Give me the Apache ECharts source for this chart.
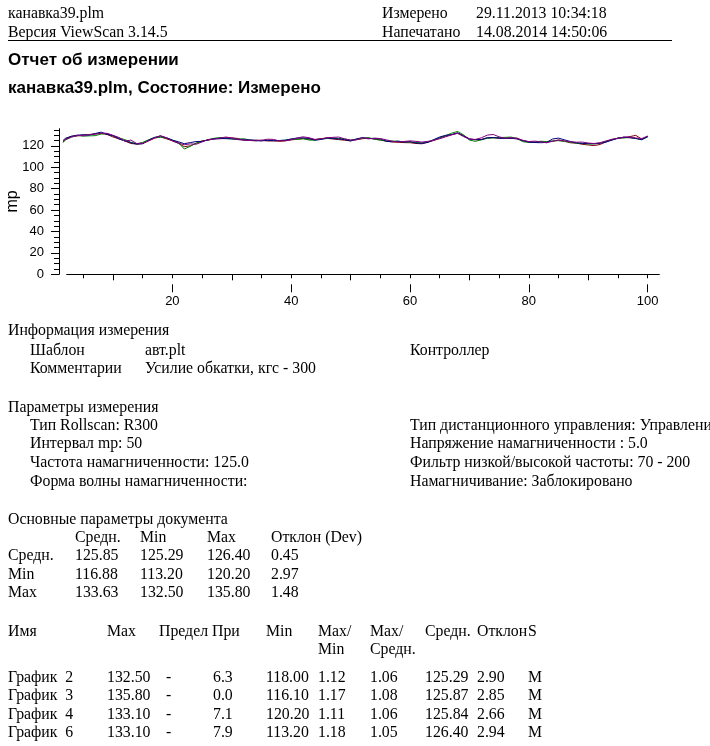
<!DOCTYPE html>
<html>
<head>
<meta charset="utf-8">
<script src="https://cdn.jsdelivr.net/npm/echarts@6/dist/echarts.min.js"></script>
<style>
html,body{margin:0;padding:0;background:#fff;}
body{width:710px;height:746px;position:relative;overflow:hidden;font-family:"Liberation Serif","Times New Roman",serif;font-size:15.8px;color:#000;}
#chart{position:absolute;left:0;top:0;width:710px;height:746px;}
.t{position:absolute;white-space:pre;line-height:18px;z-index:2;}
.b{font-family:"Liberation Sans",Arial,sans-serif;font-weight:bold;font-size:17px;}
#hr{position:absolute;left:8px;top:40px;width:664px;height:1px;background:#000;z-index:2;}
</style>
</head>
<body>
<div id="chart"></div>
<div class="t" style="left:8px;top:4px">канавка39.plm</div>
<div class="t" style="left:382px;top:4px">Измерено</div>
<div class="t" style="left:476px;top:4px">29.11.2013 10:34:18</div>
<div class="t" style="left:8px;top:23px">Версия ViewScan 3.14.5</div>
<div class="t" style="left:382px;top:23px">Напечатано</div>
<div class="t" style="left:476px;top:23px">14.08.2014 14:50:06</div>
<div id="hr"></div>
<div class="t b" style="left:8px;top:51px">Отчет об измерении</div>
<div class="t b" style="left:8px;top:79px">канавка39.plm, Состояние: Измерено</div>

<div class="t" style="left:8px;top:321px">Информация измерения</div>
<div class="t" style="left:30px;top:341px">Шаблон</div>
<div class="t" style="left:145px;top:341px">авт.plt</div>
<div class="t" style="left:410px;top:341px">Контроллер</div>
<div class="t" style="left:30px;top:359px">Комментарии</div>
<div class="t" style="left:145px;top:359px">Усилие обкатки, кгс - 300</div>

<div class="t" style="left:8px;top:398px">Параметры измерения</div>
<div class="t" style="left:30px;top:416px">Тип Rollscan: R300</div>
<div class="t" style="left:30px;top:434px">Интервал mp: 50</div>
<div class="t" style="left:30px;top:453px">Частота намагниченности: 125.0</div>
<div class="t" style="left:30px;top:472px">Форма волны намагниченности:</div>
<div class="t" style="left:410px;top:416px">Тип дистанционного управления: Управление</div>
<div class="t" style="left:410px;top:434px">Напряжение намагниченности : 5.0</div>
<div class="t" style="left:410px;top:453px">Фильтр низкой/высокой частоты: 70 - 200</div>
<div class="t" style="left:410px;top:472px">Намагничивание: Заблокировано</div>

<div class="t" style="left:8px;top:510px">Основные параметры документа</div>
<div id="stats"></div>
<div id="table"></div>

<script>
// ---- data ----
const xs = [1.6,2,3,4,5,6,7,8,9,10,11,12,13,14,15,16,17,18,19,20,21,22,23,24,25,26,27,28,29,30,31,32,33,34,35,36,37,38,39,40,41,42,43,44,45,46,47,48,49,50,51,52,53,54,55,56,57,58,59,60,61,62,63,64,65,66,67,68,69,70,71,72,73,74,75,76,77,78,79,80,81,82,83,84,85,86,87,88,89,90,91,92,93,94,95,96,97,98,99,100];
const graph2 = [123.5,126.5,128.8,129.2,130.2,130.5,131.2,131.6,130.6,128.3, 126.6,124.5,122.2,121.6,122.1,124.6,127.1,128.3,126.5,124.8, 122.3,119.2,120,122.4,124.6,125.1,126.8,126.6,127.6,127.5, 126.9,125.4,125,124.7,125.3,124.5,124.6,124.2,124.6,125.5, 126.2,126.8,126.2,125.8,126.8,127,126.4,125.8,125.2,124.6, 125.8,126.6,127.3,126.2,125.6,124.4,123.6,123.3,123,122.9, 122.2,121.9,123.4,125,127.4,129,130.6,131.6,129.8,126.5, 125.6,126,127.4,127.6,127,127.5,126.9,127.3,124.8,123.8, 123.3,123.9,123.6,124.2,125.6,124.4,122.8,122.6,121.4,120.8, 120.2,121.3,123.7,125.9,127.1,127.6,128.6,129.8,126.3,128.3];
const graph3 = [123,125.5,128,129.8,129,129.3,129.5,131,131.5,129.6, 127.5,125.8,123.4,121.8,123.2,125.6,127.8,128.1,127.6,125.4, 123.2,117,119.5,122.6,124,125.8,127,127.8,127,126.4, 126,126.7,125.4,125.2,124.8,125.3,125.1,124.9,125.4,126.3, 126,126.6,125.4,125.2,126.2,126.8,127.3,126.9,126.4,125.3, 126.3,127,127.6,126.3,125.2,124.6,124.5,124.2,123.8,123.6, 123.1,122.8,123.6,125.6,127.2,129.6,131.8,133.4,130.3,125.4, 124.2,125.6,127,127.4,127.8,127.9,128.2,126.9,123.8,123.2, 123.6,124.3,124,124.6,124.8,124,123.5,122.3,122.2,121.6, 122,122.6,124.2,125.4,127.2,127.4,127.8,126.8,125.8,128.4];
const graph4 = [125,127,129,130,130.3,130,131.5,132.8,130.8,129.4, 126.4,124.8,123,121.6,122,125.4,127.9,129.2,127.6,125.3, 123.8,122,123,124,124.2,125.6,126.4,126.8,126.7,126.5, 126.1,125.6,125.6,124.8,124.6,125.1,124.8,125,125.2,126.4, 127.2,127.5,126.8,125.4,125.9,127.4,126.8,126.4,125.8,124.6, 126.4,127.8,126.8,126.8,126.5,124.2,123.8,124.4,123.5,123.9, 122.6,122.3,123.2,125.8,128.3,129.8,130.4,132.2,129.2,126.3, 125.8,125.8,127.6,127.8,127.2,126.8,127.1,126.4,124.9,123.4, 123.1,122.9,123.2,126.4,127.2,125.6,124,122.8,122.3,122.2, 121.8,122.4,123.5,125.4,127.3,128,127.5,126.9,125.7,128.7];
const graph6 = [124.5,126,128.3,129.6,129.5,130.6,130.8,131.8,131.7,129.8, 127.8,124.3,125.4,122.2,122.5,124.8,127.4,129.5,127.4,124.5, 122.6,121,121.8,121.5,123.6,125.9,126.2,127.3,128.2,127.4, 125.8,125.3,125.1,125.3,125.1,126.2,126,124.6,124.8,125.8, 127.4,128.4,127.6,126,126.5,127.6,127.9,128.2,126.5,125.4, 125.6,127.4,126.5,127.2,126.8,125.6,124.3,123.6,124.1,124.6, 124.2,123.5,124.2,125.2,126.6,128.4,130.2,131.8,128.6,126.2, 126,127.5,130,130.6,128.4,127,127.6,126.8,125.2,124, 124.4,123.8,122.8,124.4,125.2,124.6,123.8,123.4,123.5,122.6, 122.2,122.9,124.6,126.2,126.8,128.3,128.2,127.4,126.8,129.2];
const seriesNames = ['График 2','График 3','График 4','График 6'];
const seriesColors = ['#800000','#008000','#000080','#800080'];
const xTick5 = [5,10,15,20,25,30,35,40,45,50,55,60,65,70,75,80,85,90,95,100];
const xTick10 = [10,30,50,70,90];
const xLabels = [20,40,60,80,100];
const yTick5 = [0,5,10,15,20,25,30,35,40,45,50,55,60,65,70,75,80,85,90,95,100,105,110,115,120,125,130,135];
const yLabels = [0,20,40,60,80,100,120];

// summary tables
const statCols = ['Средн.','Min','Max','Отклон (Dev)'];
const statRows = ['Средн.','Min','Max'];
const statVals = [['125.85','125.29','126.40','0.45'],['116.88','113.20','120.20','2.97'],['133.63','132.50','135.80','1.48']];
const tabNames = ['График  2','График  3','График  4','График  6'];
const tabMax = ['132.50','135.80','133.10','133.10'];
const tabAt = ['6.3','0.0','7.1','7.9'];
const tabMin = ['118.00','116.10','120.20','113.20'];
const tabMaxMin = ['1.12','1.17','1.11','1.18'];
const tabMaxAvg = ['1.06','1.08','1.06','1.05'];
const tabAvg = ['125.29','125.87','125.84','126.40'];
const tabDev = ['2.90','2.85','2.66','2.94'];

function put(parent, x, y, txt){
  const d = document.createElement('div');
  d.className = 't'; d.style.left = x + 'px'; d.style.top = y + 'px';
  d.textContent = txt; parent.appendChild(d);
}
const st = document.getElementById('stats');
const statX = [75,140,207,271];
const statY = [528,546,565,583];
statCols.forEach((c,i)=>put(st, statX[i], statY[0], c));
statRows.forEach((r,j)=>{
  put(st, 8, statY[j+1], r);
  statVals[j].forEach((v,i)=>put(st, statX[i], statY[j+1], v));
});
const tb = document.getElementById('table');
const hdr = [['Имя',8],['Max',107],['Предел',159],['При',212],['Min',266],['Max/',318],['Max/',370],['Средн.',425],['Отклон',477],['S',528]];
hdr.forEach(h=>put(tb, h[1], 622, h[0]));
put(tb, 318, 640, 'Min'); put(tb, 370, 640, 'Средн.');
const rowY = [668,686,705,723];
tabNames.forEach((n,j)=>{
  const y = rowY[j];
  put(tb, 8, y, n); put(tb, 107, y, tabMax[j]); put(tb, 166, y, '-');
  put(tb, 213, y, tabAt[j]); put(tb, 266, y, tabMin[j]); put(tb, 318, y, tabMaxMin[j]);
  put(tb, 370, y, tabMaxAvg[j]); put(tb, 425, y, tabAvg[j]); put(tb, 477, y, tabDev[j]); put(tb, 528, y, 'M');
});

// ---- chart ----
const chart = echarts.init(document.getElementById('chart'), null, {renderer:'canvas'});
const axisFont = {fontFamily:'Liberation Sans, Arial, sans-serif', fontSize:13, color:'#000'};
const gridL = 53.55, gridW = 606, gridT = 128.7, gridH = 145.6;
const hideAll = {axisLine:{show:false}, axisTick:{show:false}, axisLabel:{show:false}, splitLine:{show:false}};
const option = {
  animation:false,
  backgroundColor:'transparent',
  grid:[
    {left:gridL, top:gridT, width:gridW, height:gridH, containLabel:false, outerBoundsMode:'none'},
    {left:66.7, top:gridT, width:592.6, height:gridH, containLabel:false, outerBoundsMode:'none'}
  ],
  xAxis:[
    {type:'value', gridIndex:0, min:0, max:102, position:'bottom', offset:10,
     axisLine:{show:false}, splitLine:{show:false},
     axisTick:{show:true, customValues:xTick5, length:4, lineStyle:{color:'#000'}},
     axisLabel:{show:true, customValues:xLabels, margin:11, ...axisFont}},
    {type:'value', gridIndex:0, min:0, max:102, position:'bottom', offset:10, ...hideAll,
     axisTick:{show:true, customValues:xTick10, length:6, lineStyle:{color:'#000'}}},
    {type:'value', gridIndex:0, min:0, max:102, position:'bottom', offset:10, ...hideAll,
     axisTick:{show:true, customValues:xLabels, length:8, lineStyle:{color:'#000'}}},
    {type:'value', gridIndex:1, min:0, max:1, position:'bottom', offset:10, ...hideAll,
     axisLine:{show:true, lineStyle:{color:'#000', width:1}}}
  ],
  yAxis:[
    {type:'value', gridIndex:0, min:0, max:136, position:'left', offset:-5.45,
     name:'mp', nameLocation:'middle', nameRotate:90, nameGap:38, nameMoveOverlap:false,
     nameTextStyle:{fontFamily:'Liberation Sans, Arial, sans-serif', fontSize:16, color:'#000'},
     axisLine:{show:true, lineStyle:{color:'#000', width:1}}, splitLine:{show:false},
     axisTick:{show:true, customValues:yTick5, length:5, lineStyle:{color:'#000'}},
     axisLabel:{show:true, customValues:yLabels, margin:15, ...axisFont}},
    {type:'value', gridIndex:0, min:0, max:136, position:'left', offset:-5.45, ...hideAll,
     axisTick:{show:true, customValues:yLabels, length:8, lineStyle:{color:'#000'}}},
    {type:'value', gridIndex:1, min:0, max:136, ...hideAll}
  ],
  series:[graph2, graph3, graph4, graph6].map((vals, k)=>({
    name:seriesNames[k], type:'line', xAxisIndex:0, yAxisIndex:0,
    data: xs.map((x,i)=>[x, vals[i]]),
    showSymbol:false, symbol:'none', smooth:false,
    lineStyle:{color:seriesColors[k], width:1},
    itemStyle:{color:seriesColors[k]}
  }))
};
chart.setOption(option);
</script>
</body>
</html>
